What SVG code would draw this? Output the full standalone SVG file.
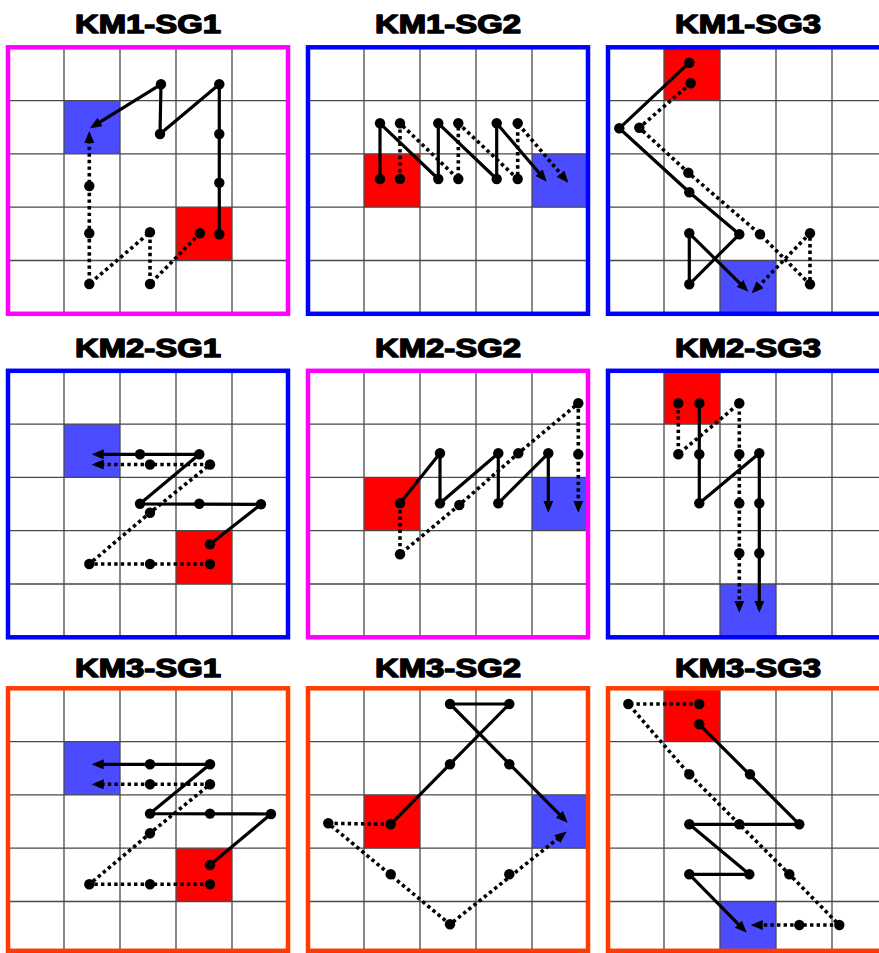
<svg xmlns="http://www.w3.org/2000/svg" xmlns:xlink="http://www.w3.org/1999/xlink" width="879" height="953" viewBox="0 0 879 953">
<style>
.title{font-family:"Liberation Sans",Arial,sans-serif;font-weight:bold;font-size:26px;fill:#000;stroke:#000;stroke-width:1.4;stroke-linejoin:round;text-anchor:middle}
.gl{stroke:#4a4a4a;stroke-width:1.3;fill:none}
.red{fill:#FF0000}
.blue{fill:#4B4BFF}
.bm{fill:none;stroke:#FF00FF;stroke-width:4.5}
.bb{fill:none;stroke:#0000FF;stroke-width:4.5}
.bo{fill:none;stroke:#FF3C00;stroke-width:4.5}
.s{fill:none;stroke:#000;stroke-width:3.2;stroke-linejoin:round}
.d{fill:none;stroke:#000;stroke-width:3.6;stroke-dasharray:3.4 3.2}
.a{marker-end:url(#ah)}
circle{fill:#000}
</style>
<defs>
<marker id="ah" markerUnits="userSpaceOnUse" viewBox="0 0 12 10" markerWidth="12" markerHeight="10" refX="8" refY="5" orient="auto">
<path d="M0,0 L12,5 L0,10 Z" fill="#000"/>
</marker>
<path id="grid" class="gl" d="M56,0V266.5M112,0V266.5M168,0V266.5M224,0V266.5M0,53.3H280M0,106.6H280M0,159.9H280M0,213.2H280"/>
</defs>
<rect width="879" height="953" fill="#fff"/>

<g id="km1-sg1">
<text class="title" x="148" y="33" textLength="146" lengthAdjust="spacingAndGlyphs">KM1-SG1</text>
<g transform="translate(8,47.3)">
<rect class="blue" x="56" y="53.3" width="56" height="53.3"/>
<rect class="red" x="168" y="159.9" width="56" height="53.3"/>
<use xlink:href="#grid"/>
<rect class="bm" width="280" height="266.5"/>
</g>
</g>

<g id="km1-sg2">
<text class="title" x="448" y="33" textLength="146" lengthAdjust="spacingAndGlyphs">KM1-SG2</text>
<g transform="translate(308,47.3)">
<rect class="red" x="56" y="106.6" width="56" height="53.3"/>
<rect class="blue" x="224" y="106.6" width="56" height="53.3"/>
<use xlink:href="#grid"/>
<rect class="bb" width="280" height="266.5"/>
</g>
</g>

<g id="km1-sg3">
<text class="title" x="748" y="33" textLength="146" lengthAdjust="spacingAndGlyphs">KM1-SG3</text>
<g transform="translate(608,47.3)">
<rect class="red" x="56" y="0" width="56" height="53.3"/>
<rect class="blue" x="112" y="213.2" width="56" height="53.3"/>
<use xlink:href="#grid"/>
<rect class="bb" width="280" height="266.5"/>
</g>
</g>

<g id="km2-sg1">
<text class="title" x="148" y="357" textLength="146" lengthAdjust="spacingAndGlyphs">KM2-SG1</text>
<g transform="translate(8,370.8)">
<rect class="blue" x="56" y="53.3" width="56" height="53.3"/>
<rect class="red" x="168" y="159.9" width="56" height="53.3"/>
<use xlink:href="#grid"/>
<rect class="bb" width="280" height="266.5"/>
</g>
</g>

<g id="km2-sg2">
<text class="title" x="448" y="357" textLength="146" lengthAdjust="spacingAndGlyphs">KM2-SG2</text>
<g transform="translate(308,370.8)">
<rect class="red" x="56" y="106.6" width="56" height="53.3"/>
<rect class="blue" x="224" y="106.6" width="56" height="53.3"/>
<use xlink:href="#grid"/>
<rect class="bm" width="280" height="266.5"/>
</g>
</g>

<g id="km2-sg3">
<text class="title" x="748" y="357" textLength="146" lengthAdjust="spacingAndGlyphs">KM2-SG3</text>
<g transform="translate(608,370.8)">
<rect class="red" x="56" y="0" width="56" height="53.3"/>
<rect class="blue" x="112" y="213.2" width="56" height="53.3"/>
<use xlink:href="#grid"/>
<rect class="bb" width="280" height="266.5"/>
</g>
</g>

<g id="km3-sg1">
<text class="title" x="148" y="677" textLength="146" lengthAdjust="spacingAndGlyphs">KM3-SG1</text>
<g transform="translate(8,688.3)">
<rect class="blue" x="56" y="53.3" width="56" height="53.3"/>
<rect class="red" x="168" y="159.9" width="56" height="53.3"/>
<use xlink:href="#grid"/>
<rect class="bo" width="280" height="262.5"/>
</g>
</g>

<g id="km3-sg2">
<text class="title" x="448" y="677" textLength="146" lengthAdjust="spacingAndGlyphs">KM3-SG2</text>
<g transform="translate(308,688.3)">
<rect class="red" x="56" y="106.6" width="56" height="53.3"/>
<rect class="blue" x="224" y="106.6" width="56" height="53.3"/>
<use xlink:href="#grid"/>
<rect class="bo" width="280" height="262.5"/>
</g>
</g>

<g id="km3-sg3">
<text class="title" x="748" y="677" textLength="146" lengthAdjust="spacingAndGlyphs">KM3-SG3</text>
<g transform="translate(608,688.3)">
<rect class="red" x="56" y="0" width="56" height="53.3"/>
<rect class="blue" x="112" y="213.2" width="56" height="53.3"/>
<use xlink:href="#grid"/>
<rect class="bo" width="280" height="262.5"/>
</g>
</g>

<g id="connectors">
<!-- KM1-SG1 -->
<path class="s a" d="M219.3,234.3 L219.3,84.3 L160,134 L161,84.3 L93.4,126.2"/>
<path class="d a" d="M200,233.3 L150,284 L150,232.3 L89.3,284 L89.3,135"/>
<!-- KM1-SG2 -->
<path class="s a" d="M380,179 L380,123.3 L438.3,179 L438.3,123.3 L496.7,179 L496.7,123.3 L544.1,178.7"/>
<path class="d a" d="M400,179 L400,123.3 L458.3,179 L458.3,123.3 L517.7,179 L517.7,123.3 L565.7,179.7"/>
<!-- KM1-SG3 -->
<path class="s a" d="M689.3,62.7 L619.3,128.3 L689.3,192.3 L739.3,234.3 L689.3,284.3 L689.3,233.3 L745.5,288.9"/>
<path class="d a" d="M690.7,83.3 L639.3,127.7 L688.3,172.7 L760,234.3 L810,284.3 L810,233.3 L754.5,290.4"/>
<!-- KM2-SG1 -->
<path class="s a" d="M210,544.3 L261,504.3 L140,503.8 L199.3,454.3 L95.7,454.3"/>
<path class="d a" d="M210,564 L89.3,564 L150,512.7 L210,464.5 L95.7,464.5"/>
<!-- KM2-SG2 -->
<path class="s a" d="M400,503.3 L440,453.3 L440,503.3 L498.3,453.3 L498.3,503.3 L548.3,453.3 L548.3,508.7"/>
<path class="d a" d="M400,503.3 L400,554.3 L459.3,505 L518.3,453.3 L578.3,403.3 L578.3,508.7"/>
<!-- KM2-SG3 -->
<path class="s a" d="M699.3,403.3 L699.3,503.3 L759.3,453.3 L759.3,608.7"/>
<path class="d a" d="M678.3,403.3 L678.3,454.3 L739.3,403.3 L739.3,608.7"/>
<!-- KM3-SG1 -->
<path class="s a" d="M210,865 L271,814 L150,813.6 L210,764.3 L95.7,764.3"/>
<path class="d a" d="M210,884.3 L89.3,884.3 L150,833.3 L210,784.3 L95.7,784.3"/>
<!-- KM3-SG2 -->
<path class="s a" d="M390.7,824.3 L509.3,704 L450,704 L564.9,819.9"/>
<path class="d a" d="M390.7,824.3 L328.3,823.3 L450,924.3 L563.5,834.1"/>
<!-- KM3-SG3 -->
<path class="s a" d="M699.3,724.3 L799.3,824.3 L689.3,824.3 L749.3,874.3 L689.3,874.3 L743.9,929.8"/>
<path class="d a" d="M699.3,704 L628.3,704 L689.3,774.3 L739.3,824.3 L789.3,874.3 L839.3,925 L754.7,925"/>
</g>

<g id="points">
<!-- KM1-SG1 -->
<circle cx="219.3" cy="234.3" r="5.2"/><circle cx="219.3" cy="182.7" r="5.2"/><circle cx="219.3" cy="134" r="5.2"/><circle cx="219.3" cy="84.3" r="5.2"/><circle cx="160" cy="134" r="5.2"/><circle cx="161" cy="84.3" r="5.2"/>
<circle cx="200" cy="233.3" r="5.2"/><circle cx="150" cy="284" r="5.2"/><circle cx="150" cy="232.3" r="5.2"/><circle cx="89.3" cy="284" r="5.2"/><circle cx="89.3" cy="233.3" r="5.2"/><circle cx="89.3" cy="186" r="5.2"/>
<!-- KM1-SG2 -->
<circle cx="380" cy="179" r="5.2"/><circle cx="380" cy="123.3" r="5.2"/><circle cx="438.3" cy="179" r="5.2"/><circle cx="438.3" cy="123.3" r="5.2"/><circle cx="496.7" cy="179" r="5.2"/><circle cx="496.7" cy="123.3" r="5.2"/>
<circle cx="400" cy="179" r="5.2"/><circle cx="400" cy="123.3" r="5.2"/><circle cx="458.3" cy="179" r="5.2"/><circle cx="458.3" cy="123.3" r="5.2"/><circle cx="517.7" cy="179" r="5.2"/><circle cx="517.7" cy="123.3" r="5.2"/>
<!-- KM1-SG3 -->
<circle cx="689.3" cy="62.7" r="5.2"/><circle cx="619.3" cy="128.3" r="5.2"/><circle cx="689.3" cy="192.3" r="5.2"/><circle cx="739.3" cy="234.3" r="5.2"/><circle cx="689.3" cy="284.3" r="5.2"/><circle cx="689.3" cy="233.3" r="5.2"/>
<circle cx="690.7" cy="83.3" r="5.2"/><circle cx="639.3" cy="127.7" r="5.2"/><circle cx="688.3" cy="172.7" r="5.2"/><circle cx="760" cy="234.3" r="5.2"/><circle cx="810" cy="284.3" r="5.2"/><circle cx="810" cy="233.3" r="5.2"/>
<!-- KM2-SG1 -->
<circle cx="210" cy="544.3" r="5.2"/><circle cx="261" cy="504.3" r="5.2"/><circle cx="199.3" cy="503.8" r="5.2"/><circle cx="140" cy="503.8" r="5.2"/><circle cx="199.3" cy="454.3" r="5.2"/><circle cx="140" cy="454.3" r="5.2"/>
<circle cx="210" cy="564" r="5.2"/><circle cx="150" cy="564" r="5.2"/><circle cx="89.3" cy="564" r="5.2"/><circle cx="150" cy="512.7" r="5.2"/><circle cx="210" cy="464.5" r="5.2"/><circle cx="150" cy="464.5" r="5.2"/>
<!-- KM2-SG2 -->
<circle cx="400" cy="503.3" r="5.2"/><circle cx="440" cy="453.3" r="5.2"/><circle cx="440" cy="503.3" r="5.2"/><circle cx="498.3" cy="453.3" r="5.2"/><circle cx="498.3" cy="503.3" r="5.2"/><circle cx="548.3" cy="453.3" r="5.2"/>
<circle cx="400" cy="554.3" r="5.2"/><circle cx="459.3" cy="505" r="5.2"/><circle cx="518.3" cy="453.3" r="5.2"/><circle cx="578.3" cy="403.3" r="5.2"/><circle cx="578.3" cy="454.3" r="5.2"/>
<!-- KM2-SG3 -->
<circle cx="699.3" cy="403.3" r="5.2"/><circle cx="699.3" cy="454.3" r="5.2"/><circle cx="699.3" cy="503.3" r="5.2"/><circle cx="759.3" cy="453.3" r="5.2"/><circle cx="759.3" cy="503.3" r="5.2"/><circle cx="759.3" cy="553.3" r="5.2"/>
<circle cx="678.3" cy="403.3" r="5.2"/><circle cx="678.3" cy="454.3" r="5.2"/><circle cx="739.3" cy="403.3" r="5.2"/><circle cx="739.3" cy="454.3" r="5.2"/><circle cx="739.3" cy="503.3" r="5.2"/><circle cx="739.3" cy="553.3" r="5.2"/>
<!-- KM3-SG1 -->
<circle cx="210" cy="865" r="5.2"/><circle cx="271" cy="814" r="5.2"/><circle cx="210" cy="813.6" r="5.2"/><circle cx="150" cy="813.6" r="5.2"/><circle cx="210" cy="764.3" r="5.2"/><circle cx="150" cy="764.3" r="5.2"/>
<circle cx="210" cy="884.3" r="5.2"/><circle cx="150" cy="884.3" r="5.2"/><circle cx="89.3" cy="884.3" r="5.2"/><circle cx="150" cy="833.3" r="5.2"/><circle cx="210" cy="784.3" r="5.2"/><circle cx="150" cy="784.3" r="5.2"/>
<!-- KM3-SG2 -->
<circle cx="390.7" cy="824.3" r="5.2"/><circle cx="450" cy="764.3" r="5.2"/><circle cx="509.3" cy="704" r="5.2"/><circle cx="450" cy="704" r="5.2"/><circle cx="509.3" cy="764.3" r="5.2"/>
<circle cx="328.3" cy="823.3" r="5.2"/><circle cx="390.7" cy="874.3" r="5.2"/><circle cx="450" cy="924.3" r="5.2"/><circle cx="509.3" cy="874.3" r="5.2"/>
<!-- KM3-SG3 -->
<circle cx="699.3" cy="724.3" r="5.2"/><circle cx="750" cy="774.3" r="5.2"/><circle cx="799.3" cy="824.3" r="5.2"/><circle cx="689.3" cy="824.3" r="5.2"/><circle cx="749.3" cy="874.3" r="5.2"/><circle cx="689.3" cy="874.3" r="5.2"/>
<circle cx="699.3" cy="704" r="5.2"/><circle cx="628.3" cy="704" r="5.2"/><circle cx="689.3" cy="774.3" r="5.2"/><circle cx="739.3" cy="824.3" r="5.2"/><circle cx="789.3" cy="874.3" r="5.2"/><circle cx="839.3" cy="925" r="5.2"/><circle cx="799.3" cy="925" r="5.2"/>
</g>
</svg>
